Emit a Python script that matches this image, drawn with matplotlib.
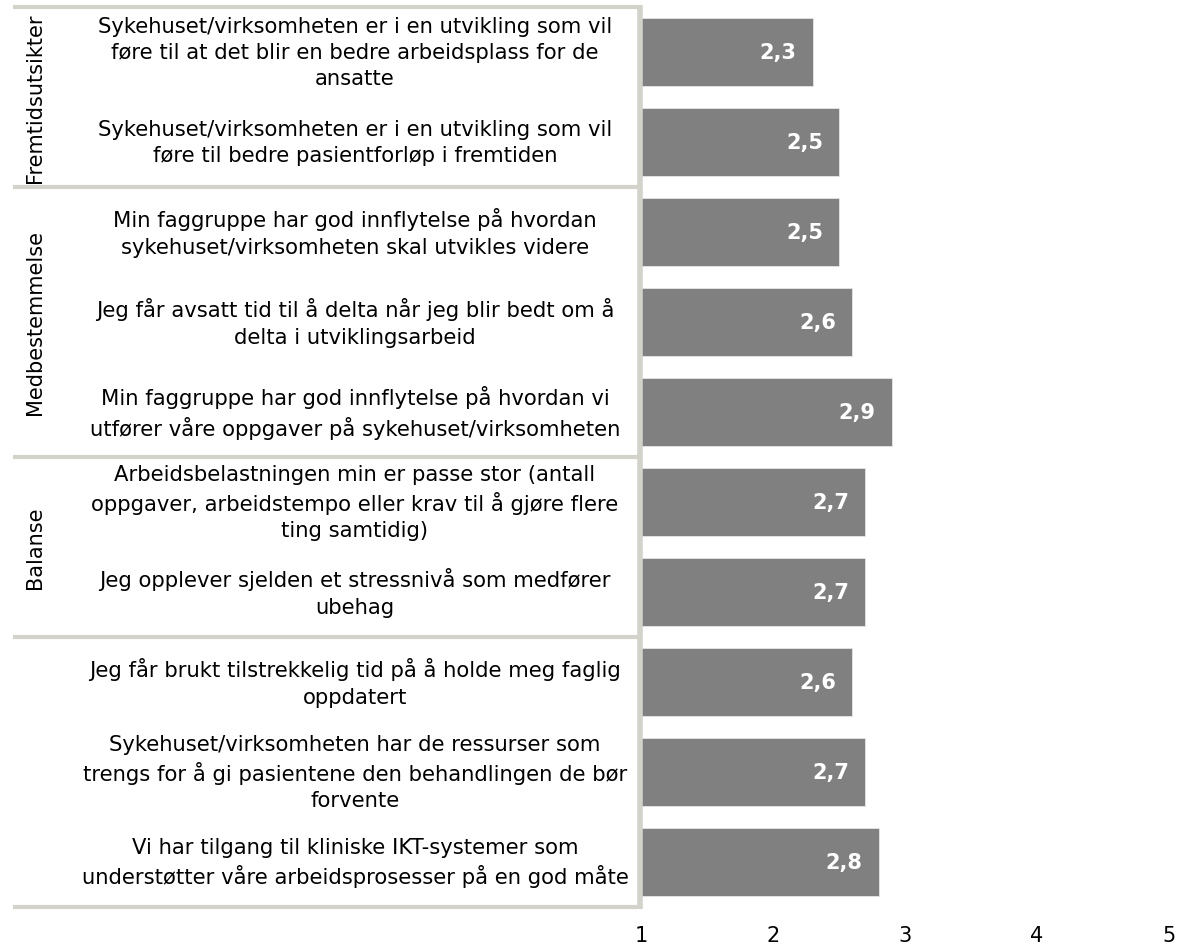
import matplotlib
matplotlib.use("Agg")
import matplotlib.pyplot as plt
from matplotlib.transforms import blended_transform_factory

# Survey items (top to bottom), mean scores on a 1-5 scale
questions = [
    "Sykehuset/virksomheten er i en utvikling som vil\nføre til at det blir en bedre arbeidsplass for de\nansatte",
    "Sykehuset/virksomheten er i en utvikling som vil\nføre til bedre pasientforløp i fremtiden",
    "Min faggruppe har god innflytelse på hvordan\nsykehuset/virksomheten skal utvikles videre",
    "Jeg får avsatt tid til å delta når jeg blir bedt om å\ndelta i utviklingsarbeid",
    "Min faggruppe har god innflytelse på hvordan vi\nutfører våre oppgaver på sykehuset/virksomheten",
    "Arbeidsbelastningen min er passe stor (antall\noppgaver, arbeidstempo eller krav til å gjøre flere\nting samtidig)",
    "Jeg opplever sjelden et stressnivå som medfører\nubehag",
    "Jeg får brukt tilstrekkelig tid på å holde meg faglig\noppdatert",
    "Sykehuset/virksomheten har de ressurser som\ntrengs for å gi pasientene den behandlingen de bør\nforvente",
    "Vi har tilgang til kliniske IKT-systemer som\nunderstøtter våre arbeidsprosesser på en god måte",
]
scores = [2.3, 2.5, 2.5, 2.6, 2.9, 2.7, 2.7, 2.6, 2.7, 2.8]

# Groups: (label, first item index, last item index)
group_names = ["Fremtidsutsikter", "Medbestemmelse", "Balanse", ""]
group_first = [0, 2, 5, 7]
group_last = [1, 4, 6, 9]

x_ticks = [1, 2, 3, 4, 5]

W, H = 1179, 945
fig = plt.figure(figsize=(W / 100, H / 100), dpi=100)
fig.patch.set_facecolor("white")

ax_left, ax_right = 641, 1169
ax_top, ax_bottom = 8, 908
ax = fig.add_axes([ax_left / W, 1 - ax_bottom / H,
                   (ax_right - ax_left) / W, (ax_bottom - ax_top) / H])

bar_color = "#808080"
line_color = "#d3d3cb"
font = "DejaVu Sans"

ypos = list(range(len(scores)))
ax.barh(ypos, [s - 1 for s in scores], left=1, height=0.745,
        color=bar_color, edgecolor="#e6e6e6", linewidth=0.6)

ax.set_xlim(1, 5)
ax.set_ylim(len(scores) - 0.5, -0.5)
ax.set_xticks(x_ticks)
ax.set_xticklabels([str(t) for t in x_ticks], fontsize=15, family=font)
ax.set_yticks([])
ax.tick_params(axis="x", length=0, pad=13)
for sp in ax.spines.values():
    sp.set_visible(False)

# Value labels inside bar ends
for y, s in zip(ypos, scores):
    ax.annotate(f"{s:.1f}".replace(".", ","), xy=(s, y), xytext=(-16, 0),
                textcoords="offset pixels", ha="right", va="center",
                color="white", fontsize=15, fontweight="bold", family=font)

# Item labels, centred in the left panel
tr_pix = blended_transform_factory(fig.dpi_scale_trans, ax.transData)
px = 1 / 100.0
for y, q in zip(ypos, questions):
    ax.text(355 * px, y, q, transform=tr_pix, ha="center", va="center",
            multialignment="center", fontsize=15.2, family=font,
            linespacing=1.38, clip_on=False)

# Panel frame and group separators
def hline(yv):
    ax.plot([13 * px, 641 * px], [yv, yv], transform=tr_pix, color=line_color,
            lw=3.0, solid_capstyle="butt", clip_on=False)

hline(-0.5)
for last in group_last:
    hline(last + 0.5)
ax.plot([640 * px, 640 * px], [-0.5 - 0.02, len(scores) - 0.5 + 0.02],
        transform=tr_pix, color=line_color, lw=4.0, solid_capstyle="butt",
        clip_on=False)

# Rotated group names
for name, a, b in zip(group_names, group_first, group_last):
    if name:
        ax.text(35 * px, (a + b) / 2, name, transform=tr_pix, rotation=90,
                ha="center", va="center", fontsize=15, family=font,
                clip_on=False)

fig.savefig("out.png", dpi=100, facecolor="white")
